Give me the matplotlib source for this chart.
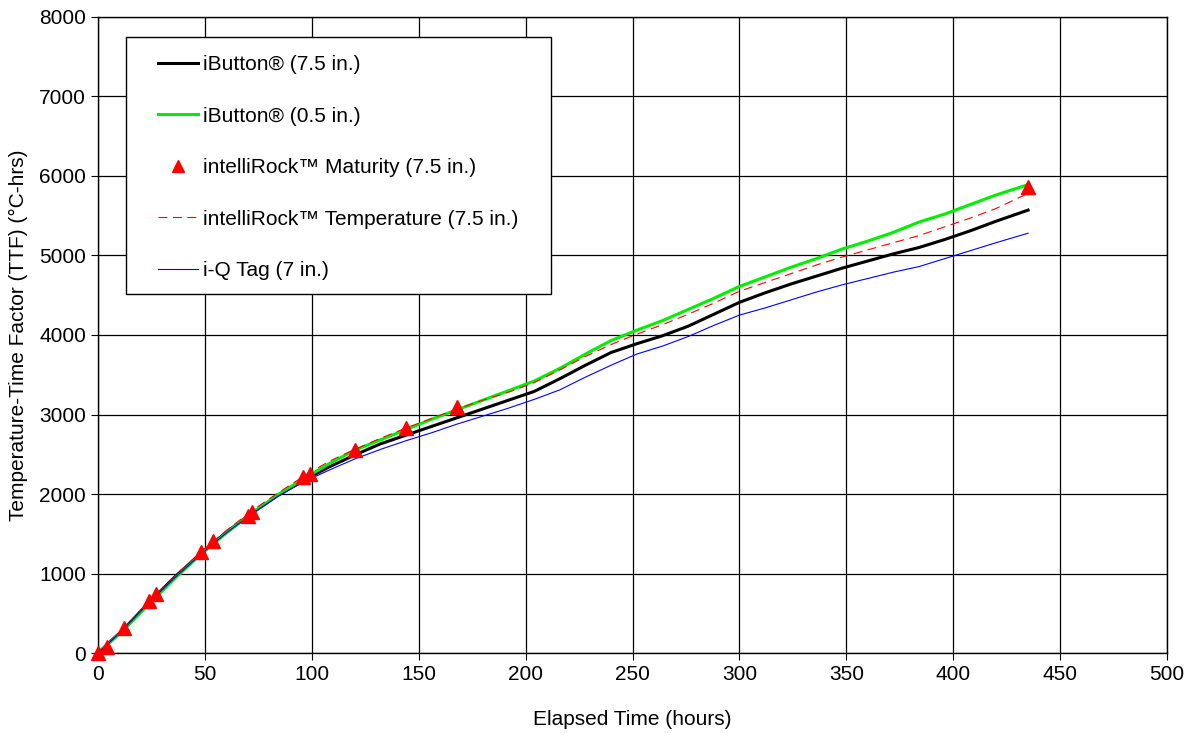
import matplotlib.pyplot as plt
from matplotlib.patches import Rectangle
import numpy as np

plt.rcParams['font.family'] = ['Liberation Sans', 'DejaVu Sans']

# elapsed time (hours) for the logged curves
hours = [0, 12, 24, 36, 48, 60, 72, 84, 96, 108, 120, 132, 144, 156, 168, 180,
         192, 204, 216, 228, 240, 252, 264, 276, 288, 300, 312, 324, 336, 348,
         360, 372, 384, 396, 408, 420, 435]

ibutton_75 = [0, 300, 640, 960, 1250, 1520, 1760, 1980, 2170, 2340, 2490, 2630,
              2740, 2850, 2960, 3070, 3180, 3290, 3450, 3620, 3780, 3890, 3990,
              4110, 4260, 4410, 4530, 4640, 4740, 4840, 4930, 5020, 5100, 5200,
              5310, 5430, 5570]
ibutton_05 = [0, 290, 620, 940, 1240, 1510, 1760, 1990, 2190, 2380, 2550, 2680,
              2810, 2940, 3060, 3180, 3300, 3420, 3580, 3760, 3930, 4060, 4180,
              4320, 4460, 4610, 4730, 4850, 4960, 5080, 5180, 5290, 5420, 5520,
              5640, 5760, 5890]
intelli_temp = [0, 310, 650, 970, 1270, 1540, 1790, 2010, 2220, 2410, 2560, 2700,
                2830, 2950, 3070, 3180, 3280, 3400, 3560, 3730, 3880, 4010, 4130,
                4260, 4400, 4550, 4660, 4770, 4880, 4980, 5070, 5160, 5250, 5360,
                5470, 5590, 5780]
iq_tag = [0, 300, 640, 950, 1240, 1510, 1750, 1970, 2150, 2300, 2440, 2560,
          2670, 2770, 2880, 2980, 3080, 3190, 3310, 3470, 3620, 3760, 3860,
          3980, 4120, 4250, 4340, 4440, 4540, 4630, 4710, 4790, 4860, 4960,
          5060, 5160, 5280]

# intelliRock maturity readings
mat_hours = [0, 4, 12, 24, 27, 48, 54, 70, 72, 96, 99, 120, 144, 168, 435]
mat_ttf = [0, 80, 310, 655, 740, 1275, 1410, 1730, 1775, 2215, 2250, 2560,
           2835, 3100, 5860]

fig = plt.figure(figsize=(11.95, 7.33), dpi=100)
ax = fig.add_axes([0.082, 0.109, 0.8946, 0.868])

ax.plot(hours, ibutton_75, color='black', lw=2.2, label='iButton® (7.5 in.)', zorder=3)
ax.plot(hours, ibutton_05, color='#00ee00', lw=2.2, label='iButton® (0.5 in.)', zorder=3)
ax.plot(mat_hours, mat_ttf, ls='none', marker='^', ms=10, color='red',
        label='intelliRock™ Maturity (7.5 in.)', zorder=5, clip_on=False)
ax.plot(hours, intelli_temp, color='red', lw=0.8, ls=(0, (8, 5)),
        label='intelliRock™ Temperature (7.5 in.)', zorder=4)
ax.plot(hours, iq_tag, color='#0000ff', lw=0.8, label='i-Q Tag (7 in.)', zorder=4)

ax.set_xlim(0, 500)
ax.set_ylim(0, 8000)
ax.set_xticks(np.arange(0, 501, 50))
ax.set_yticks(np.arange(0, 8001, 1000))
ax.grid(True, color='black', lw=0.9)
ax.tick_params(labelsize=15, length=5, color='black')
for s in ax.spines.values():
    s.set_color('black')
    s.set_linewidth(1)

ax.set_xlabel('Elapsed Time (hours)', fontsize=15, labelpad=19)
ax.set_ylabel('Temperature-Time Factor (TTF) (°C-hrs)', fontsize=15, labelpad=8)

# legend box drawn by hand, entries placed inside it
box = Rectangle((0.0262, 0.5645), 0.3976, 0.4041, transform=ax.transAxes,
                facecolor='white', edgecolor='black', lw=1, zorder=6)
ax.add_patch(box)
leg = ax.legend(loc='upper left', bbox_to_anchor=(0.0561, 0.940), fontsize=15,
                frameon=False, labelspacing=1.56, borderpad=0, handlelength=1.9,
                handletextpad=0.25, borderaxespad=0, markerscale=0.8)
leg.set_zorder(7)

fig.savefig('out.png', dpi=100)
